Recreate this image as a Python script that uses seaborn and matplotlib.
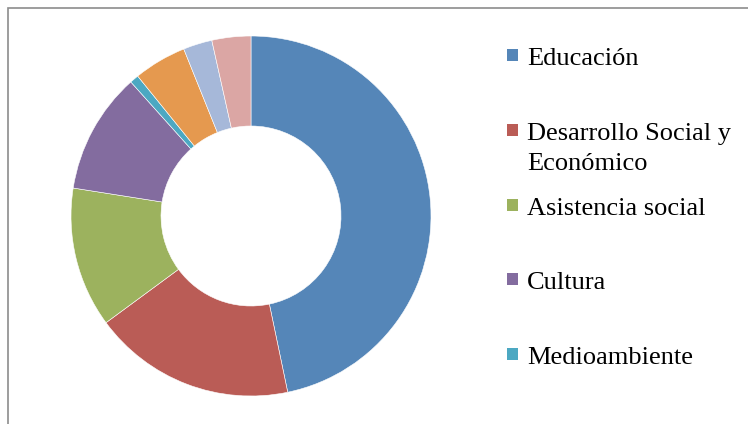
import matplotlib
matplotlib.use("Agg")
import matplotlib.pyplot as plt
import seaborn as sns
from matplotlib.patches import Rectangle

sns.set_theme(style="white")
plt.rcParams['font.family'] = ['Liberation Serif', 'DejaVu Serif']

categories = ["Educación", "Desarrollo Social y\nEconómico", "Asistencia social",
              "Cultura", "Medioambiente", "Salud", "Deporte", "Otros"]
values = [46.8, 18.2, 12.6, 10.9, 0.8, 4.75, 2.6, 3.5]
colors = ["#5586B8", "#BA5C56", "#9CB25E", "#836C9F", "#4CA8C2",
          "#E5994F", "#A6B8D9", "#DBA6A4"]
legend_shown = 5

W, H = 748, 424
fig = plt.figure(figsize=(W / 100, H / 100), dpi=100)
fig.patch.set_facecolor("white")

# chart border (extends beyond the right/bottom edge)
fig.patches.append(Rectangle((8 / W, -0.1), 1.2, (H - 8) / H + 0.1,
                             transform=fig.transFigure, fill=False,
                             edgecolor="#8C8C8C", linewidth=1.2))

cx, cy, r = 251, 216, 180
ax = fig.add_axes([(cx - r) / W, (H - cy - r) / H, 2 * r / W, 2 * r / H])
ax.pie(values, colors=colors, startangle=90, counterclock=False,
       wedgeprops=dict(width=0.5, edgecolor="white", linewidth=0.4))
ax.set_xlim(-1, 1)
ax.set_ylim(-1, 1)
ax.set_aspect("equal")
ax.axis("off")

# legend (Excel-style, equal slot pitch)
base0, pitch, line_h = 65, 74.8, 30
for i in range(legend_shown):
    base = base0 + i * pitch
    fig.patches.append(Rectangle((507 / W, (H - base + 4) / H), 11 / W, 12 / H,
                                 transform=fig.transFigure, facecolor=colors[i],
                                 edgecolor="none"))
    for j, line in enumerate(categories[i].split("\n")):
        fig.text(527 / W, (H - base - j * line_h) / H, line, ha="left",
                 va="baseline", fontsize=19, color="black")

fig.savefig("out.png", dpi=100, facecolor="white")
